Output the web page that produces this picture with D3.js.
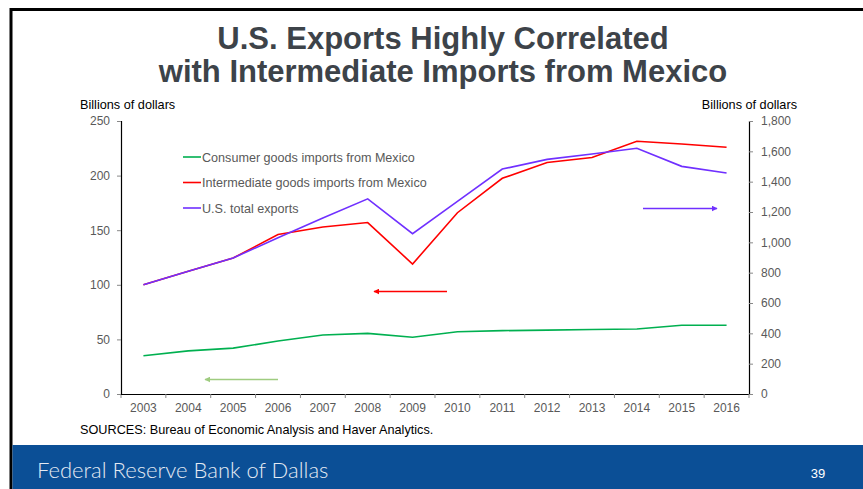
<!DOCTYPE html>
<html>
<head>
<meta charset="utf-8">
<script src="https://cdn.jsdelivr.net/npm/d3@7"></script>
<style>
  body { margin: 0; background: #fff; }
  svg { display: block; font-family: "Liberation Sans", Arial, sans-serif; }
</style>
</head>
<body>
<div class="center"></div>
<script>
// chart data
var years = ["2003", "2004", "2005", "2006", "2007", "2008", "2009", "2010",
             "2011", "2012", "2013", "2014", "2015", "2016"];
var consumer = [35, 39.5, 42, 48.5, 54, 55.5, 52, 57, 58, 58.5, 59, 59.5, 63, 63];
var intermediate = [100, 112.5, 124.5, 146, 153, 157, 119, 166, 197.5, 212, 216.5, 231.5, 229, 226];
var totalExports = [720, 810, 897, 1030, 1160, 1287, 1057, 1270, 1483, 1547, 1582, 1620, 1501, 1457];
var leftTicks = [0, 50, 100, 150, 200, 250];
var rightTicks = [0, 200, 400, 600, 800, 1000, 1200, 1400, 1600, 1800];
var legendNames = ["Consumer goods imports from Mexico",
                   "Intermediate goods imports from Mexico",
                   "U.S. total exports"];

var W = 863, H = 489;
var margin = {top: 121, right: 114, bottom: 95, left: 121},
    width = W - margin.left - margin.right,
    height = H - margin.top - margin.bottom;

var green = "#00b050", red = "#ff0000", purple = "#7030ff";

var svg = d3.select(".center").append("svg")
    .attr("width", W)
    .attr("height", H);

// slide frame + footer band
svg.append("rect")
    .attr("x", 11).attr("y", 9.5)
    .attr("width", W).attr("height", H)
    .attr("fill", "#fff")
    .attr("stroke", "#000")
    .attr("stroke-width", 3);

svg.append("rect")
    .attr("x", 12.5).attr("y", 445)
    .attr("width", W).attr("height", 50)
    .attr("fill", "#0b4f96");

svg.append("text")
    .attr("x", 37).attr("y", 478)
    .style("font-family", "Lato, 'Open Sans', sans-serif")
    .style("font-weight", "300")
    .style("font-size", "22px")
    .style("fill", "#e4eaf3")
    .text("Federal Reserve Bank of Dallas");

svg.append("text")
    .attr("x", 818).attr("y", 478)
    .attr("text-anchor", "middle")
    .style("font-size", "13px")
    .style("fill", "#fff")
    .text("39");

// title
var title = svg.append("text")
    .attr("text-anchor", "middle")
    .style("font-size", "31px")
    .style("font-weight", "bold")
    .style("fill", "#3d4349");
title.append("tspan").attr("x", 443).attr("y", 49).text("U.S. Exports Highly Correlated");
title.append("tspan").attr("x", 443).attr("y", 82).text("with Intermediate Imports from Mexico");

var g = svg.append("g")
    .attr("transform", "translate(" + margin.left + "," + margin.top + ")");

// scales
var x = d3.scaleBand().domain(years).range([0, width]);
var yL = d3.scaleLinear().domain([0, 250]).range([height, 0]);
var yR = d3.scaleLinear().domain([0, 1800]).range([height, 0]);
var xc = function(i) { return x(years[i]) + x.bandwidth() / 2; };

// axes
var xAxis = g.append("g")
    .attr("transform", "translate(0," + height + ")")
    .call(d3.axisBottom(x).tickSize(0).tickPadding(9));
xAxis.selectAll(".tick")
    .append("line")
    .attr("x1", -x.bandwidth() / 2).attr("x2", -x.bandwidth() / 2)
    .attr("y1", 0).attr("y2", 4)
    .attr("stroke", "#888");
xAxis.append("line")
    .attr("x1", width).attr("x2", width)
    .attr("y1", 0).attr("y2", 4)
    .attr("stroke", "#888");

var leftAxis = g.append("g")
    .call(d3.axisLeft(yL).tickValues(leftTicks).tickSize(4).tickPadding(7));

var rightAxis = g.append("g")
    .attr("transform", "translate(" + width + ",0)")
    .call(d3.axisRight(yR).tickValues(rightTicks).tickSize(4).tickPadding(8)
        .tickFormat(d3.format(",")));

[xAxis, leftAxis, rightAxis].forEach(function(a) {
    a.select(".domain").attr("stroke", "#000").attr("stroke-width", 1.2);
    a.selectAll(".tick line").attr("stroke", "#888");
    a.selectAll(".tick text")
        .style("font-size", "12px")
        .style("font-family", "'Liberation Sans', Arial, sans-serif")
        .style("fill", "#595959");
});

// axis titles
svg.append("text")
    .attr("x", 80).attr("y", 109)
    .style("font-size", "12.7px")
    .text("Billions of dollars");
svg.append("text")
    .attr("x", 797).attr("y", 109)
    .attr("text-anchor", "end")
    .style("font-size", "12.7px")
    .text("Billions of dollars");

// lines
var lineL = d3.line().x(function(d, i) { return xc(i); }).y(function(d) { return yL(d); });
var lineR = d3.line().x(function(d, i) { return xc(i); }).y(function(d) { return yR(d); });

g.append("path").datum(consumer)
    .attr("d", lineL).attr("fill", "none").attr("stroke", green).attr("stroke-width", 1.6);
g.append("path").datum(intermediate)
    .attr("d", lineL).attr("fill", "none").attr("stroke", red).attr("stroke-width", 1.6);
g.append("path").datum(totalExports)
    .attr("d", lineR).attr("fill", "none").attr("stroke", purple).attr("stroke-width", 1.6);

// legend
var legendColors = [green, red, purple];
var legend = svg.append("g").attr("class", "legend");
legendNames.forEach(function(name, i) {
    var ly = 157 + i * 25.5;
    legend.append("line")
        .attr("x1", 183).attr("x2", 201)
        .attr("y1", ly).attr("y2", ly)
        .attr("stroke", legendColors[i]).attr("stroke-width", 1.6);
    legend.append("text")
        .attr("x", 202).attr("y", ly + 4.5)
        .style("font-size", "12.6px")
        .style("fill", "#595959")
        .text(name);
});

// arrows pointing to the axis each series uses
var arrowGreen = "#9fcc80";
var defs = svg.append("defs");
[["ag", arrowGreen], ["ar", red], ["ap", purple]].forEach(function(m) {
    defs.append("marker")
        .attr("id", m[0])
        .attr("viewBox", "0 0 10 10")
        .attr("refX", 9).attr("refY", 5)
        .attr("markerWidth", 6).attr("markerHeight", 6)
        .attr("markerUnits", "userSpaceOnUse")
        .attr("orient", "auto")
        .append("path")
        .attr("d", "M0,0 L10,5 L0,10 z")
        .attr("fill", m[1]);
});
function arrow(x1, x2, y, color, id) {
    svg.append("line")
        .attr("x1", x1).attr("x2", x2)
        .attr("y1", y).attr("y2", y)
        .attr("stroke", color).attr("stroke-width", 1.4)
        .attr("marker-end", "url(#" + id + ")");
}
arrow(278, 205, 379.5, arrowGreen, "ag");
arrow(447, 374, 291.5, red, "ar");
arrow(643, 717, 208.5, purple, "ap");

// sources
svg.append("text")
    .attr("x", 80).attr("y", 434)
    .style("font-size", "12.7px")
    .text("SOURCES: Bureau of Economic Analysis and Haver Analytics.");
</script>
</body>
</html>
